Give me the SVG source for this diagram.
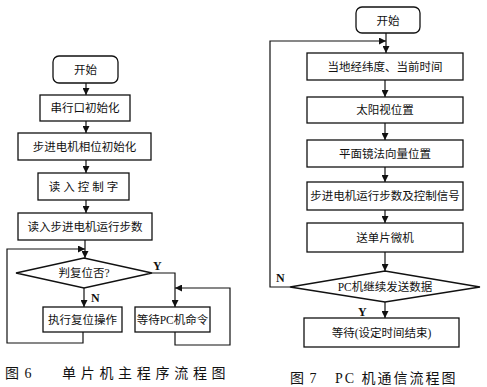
<svg xmlns="http://www.w3.org/2000/svg" width="487" height="387" viewBox="0 0 487 387">
<defs>
<marker id="ah" viewBox="0 0 10 10" refX="10" refY="5" markerWidth="7" markerHeight="7" markerUnits="userSpaceOnUse" orient="auto">
<path d="M0,0 L10,5 L0,10 Z" fill="#111"/>
</marker>
<style>
.box{fill:#fff;stroke:#111;stroke-width:1.3}
.ln{fill:none;stroke:#111;stroke-width:1.2}
.t{font-family:"Liberation Serif","Noto Sans CJK SC",serif;font-size:11.5px;fill:#111;text-anchor:middle}
.lb{font-family:"Liberation Serif","Noto Sans CJK SC",serif;font-size:12px;font-weight:bold;fill:#111}
.cap{font-family:"Liberation Serif","Noto Sans CJK SC",serif;font-size:14px;fill:#111}
</style>
</defs>
<rect width="487" height="387" fill="#fff"/>

<g id="connectors">
<line class="ln" x1="86" y1="83" x2="86" y2="95" marker-end="url(#ah)"/>
<line class="ln" x1="86" y1="121" x2="86" y2="133" marker-end="url(#ah)"/>
<line class="ln" x1="86" y1="160" x2="86" y2="173" marker-end="url(#ah)"/>
<line class="ln" x1="86" y1="200" x2="86" y2="213" marker-end="url(#ah)"/>
<line class="ln" x1="85" y1="240" x2="85" y2="258" marker-end="url(#ah)"/>
<path class="ln" d="M83,332 V343 H7 V249 H85" marker-end="url(#ah)"/>
<line class="ln" x1="84" y1="288" x2="84" y2="307" marker-end="url(#ah)"/>
<path class="ln" d="M152,273 H175 V307" marker-end="url(#ah)"/>
<path class="ln" d="M175,332 V345 H230 V288 H175" marker-end="url(#ah)"/>

<line class="ln" x1="386" y1="33" x2="386" y2="53" marker-end="url(#ah)"/>
<path class="ln" d="M290,287 H270 V41 H386" marker-end="url(#ah)"/>
<line class="ln" x1="385" y1="80" x2="385" y2="97" marker-end="url(#ah)"/>
<line class="ln" x1="385" y1="123" x2="385" y2="140" marker-end="url(#ah)"/>
<line class="ln" x1="385" y1="167" x2="385" y2="182" marker-end="url(#ah)"/>
<line class="ln" x1="385" y1="210" x2="385" y2="223" marker-end="url(#ah)"/>
<line class="ln" x1="385" y1="252" x2="385" y2="271" marker-end="url(#ah)"/>
<line class="ln" x1="385" y1="302" x2="385" y2="318" marker-end="url(#ah)"/>
</g>

<g id="l-start"><rect class="box" x="53" y="56" width="65" height="27" rx="6"/><text class="t" x="85.5" y="74">开始</text></g>
<g id="l-serial"><rect class="box" x="40" y="95" width="90" height="26"/><text class="t" x="85" y="112">串行口初始化</text></g>
<g id="l-phase"><rect class="box" x="18" y="133" width="133" height="27"/><text class="t" x="84.5" y="150.5">步进电机相位初始化</text></g>
<g id="l-ctrl"><rect class="box" x="38" y="173" width="91" height="27"/><text class="t" x="85" y="190.5" letter-spacing="3">读入控制字</text></g>
<g id="l-steps"><rect class="box" x="18" y="213" width="134" height="27"/><text class="t" x="85" y="230.5">读入步进电机运行步数</text></g>
<g id="l-decide"><polygon class="box" points="16,273 84,258 152,273 84,288"/><text class="t" x="84" y="277">判复位否?</text></g>
<g id="l-reset"><rect class="box" x="43" y="307" width="79" height="25"/><text class="t" x="82.5" y="323.5">执行复位操作</text></g>
<g id="l-wait"><rect class="box" x="135" y="307" width="75" height="25"/><text class="t" x="172.5" y="323.5">等待PC机命令</text></g>
<text class="lb" x="91" y="302">N</text>
<text class="lb" x="153" y="270">Y</text>
<text class="cap" x="5" y="378" letter-spacing="1">图 6</text>
<text class="cap" x="62" y="378" letter-spacing="4.7">单片机主程序流程图</text>

<g id="r-start"><rect class="box" x="356" y="7" width="64" height="26" rx="6"/><text class="t" x="388" y="24.5">开始</text></g>
<g id="r-geo"><rect class="box" x="307" y="53" width="156" height="27"/><text class="t" x="385" y="70.5">当地经纬度、当前时间</text></g>
<g id="r-sun"><rect class="box" x="307" y="97" width="156" height="26"/><text class="t" x="385" y="114">太阳视位置</text></g>
<g id="r-mirror"><rect class="box" x="307" y="140" width="156" height="27"/><text class="t" x="385" y="157.5">平面镜法向量位置</text></g>
<g id="r-motor"><rect class="box" x="307" y="182" width="156" height="28"/><text class="t" x="385" y="200">步进电机运行步数及控制信号</text></g>
<g id="r-send"><rect class="box" x="307" y="223" width="156" height="29"/><text class="t" x="385" y="241.5">送单片微机</text></g>
<g id="r-decide"><polygon class="box" points="290,287 385,271 480,287 385,302"/><text class="t" x="385" y="291">PC机继续发送数据</text></g>
<g id="r-wait"><rect class="box" x="304" y="318" width="155" height="29"/><text class="t" x="381.5" y="336.5">等待(设定时间结束)</text></g>
<text class="lb" x="276" y="282">N</text>
<text class="lb" x="358" y="316">Y</text>
<text class="cap" x="290" y="383" letter-spacing="1">图 7</text>
<text class="cap" x="335" y="383" letter-spacing="2">PC 机通信流程图</text>
</svg>
